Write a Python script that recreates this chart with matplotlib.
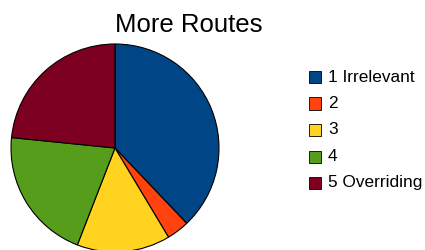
import matplotlib
matplotlib.use("Agg")
import matplotlib.pyplot as plt
from matplotlib.patches import Rectangle

plt.rcParams['font.family'] = ['Liberation Sans', 'DejaVu Sans']

# share of answers
labels = ['1 Irrelevant', '2', '3', '4', '5 Overriding']
values = [37.9, 3.5, 14.5, 20.7, 23.4]
colors = ['#004586', '#ff420e', '#ffd320', '#579d1c', '#7e0021']

W, H = 425, 250
fig = plt.figure(figsize=(W / 100, H / 100), dpi=100)

# pie centre ~(115,148) px, radius ~104 px
cx, cy, r = 115, 148, 104
ax = fig.add_axes([(cx - r) / W, (H - cy - r) / H, 2 * r / W, 2 * r / H])
ax.pie(values, colors=colors, startangle=90, counterclock=False, radius=1,
       wedgeprops=dict(edgecolor='black', linewidth=0.8))
ax.set_xlim(-1, 1)
ax.set_ylim(-1, 1)
ax.set_aspect('auto')
ax.axis('off')

fig.text(189 / W, 1 - 32 / H, 'More Routes', ha='center', va='baseline', fontsize=18.5)

# legend, drawn by hand to match row spacing
row_y = [77, 103.5, 130, 156.5, 183]
for lab, col, y in zip(labels, colors, row_y):
    fig.patches.append(Rectangle((309 / W, 1 - (y + 6) / H), 12 / W, 12 / H,
                                 transform=fig.transFigure, facecolor=col,
                                 edgecolor='black', linewidth=0.6))
    fig.text(328 / W, 1 - y / H, lab, ha='left', va='center', fontsize=12.4)

fig.savefig('out.png', dpi=100)
